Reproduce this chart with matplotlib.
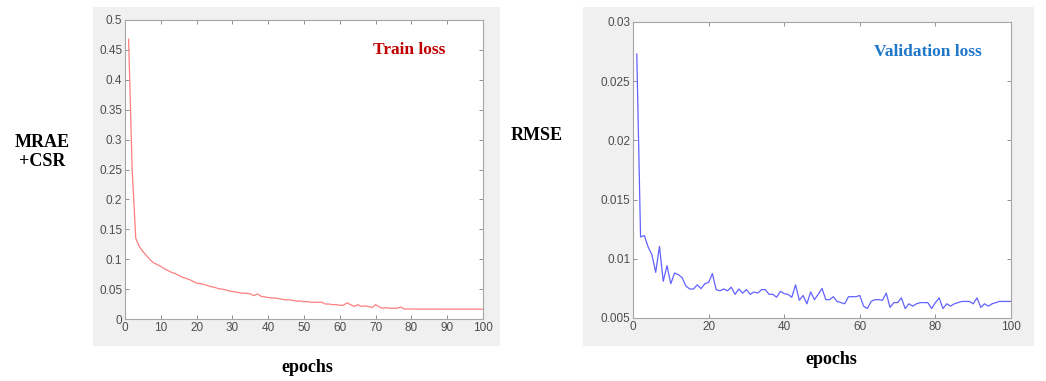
import matplotlib.pyplot as plt
import matplotlib.patches as mpatches
import numpy as np

epochs = np.arange(1, 101)

train_loss = [
    0.468, 0.25, 0.135, 0.121, 0.113, 0.106, 0.099, 0.094, 0.091, 0.088,
    0.084, 0.081, 0.078, 0.076, 0.073, 0.070, 0.068, 0.066, 0.063, 0.060,
    0.059, 0.058, 0.056, 0.054, 0.053, 0.051, 0.050, 0.049, 0.047, 0.046,
    0.045, 0.044, 0.043, 0.043, 0.042, 0.039, 0.042, 0.038, 0.037, 0.036,
    0.035, 0.035, 0.034, 0.033, 0.032, 0.032, 0.031, 0.030, 0.030, 0.029,
    0.029, 0.028, 0.028, 0.028, 0.028, 0.025, 0.025, 0.024, 0.024, 0.023,
    0.023, 0.027, 0.024, 0.021, 0.024, 0.021, 0.022, 0.021, 0.019, 0.024,
    0.020, 0.018, 0.019, 0.018, 0.018, 0.018, 0.020, 0.0167, 0.0167, 0.0167,
    0.0167, 0.0166, 0.0166, 0.0166, 0.0166, 0.0166, 0.0166, 0.0165, 0.0165, 0.0165,
    0.0165, 0.0165, 0.0165, 0.0165, 0.0165, 0.0165, 0.0165, 0.0165, 0.0165, 0.0165,
]

val_loss = [
    0.0273, 0.01185, 0.01196, 0.0110, 0.01035, 0.00886, 0.01105, 0.0081, 0.00942, 0.0079,
    0.0088, 0.00866, 0.0084, 0.0077, 0.00745, 0.00745, 0.0078, 0.00748, 0.0079, 0.0080,
    0.00875, 0.0074, 0.0073, 0.00745, 0.0073, 0.0076, 0.0070, 0.00745, 0.0071, 0.0074,
    0.0070, 0.0072, 0.0071, 0.0074, 0.0074, 0.0070, 0.0070, 0.00675, 0.00725, 0.00706,
    0.0070, 0.00675, 0.0078, 0.0065, 0.0069, 0.0062, 0.0072, 0.00655, 0.0070, 0.0075,
    0.00655, 0.00655, 0.0068, 0.0064, 0.0063, 0.0062, 0.0068, 0.0068, 0.0068, 0.0069,
    0.0060, 0.0058, 0.0064, 0.00655, 0.00655, 0.0065, 0.0071, 0.0059, 0.0063, 0.0063,
    0.0067, 0.0058, 0.0062, 0.0060, 0.0062, 0.0063, 0.0063, 0.0063, 0.0058, 0.0063,
    0.0067, 0.0058, 0.0062, 0.0060, 0.0062, 0.0063, 0.0064, 0.0064, 0.0064, 0.0062,
    0.0067, 0.0059, 0.0062, 0.0060, 0.0062, 0.0063, 0.0064, 0.0064, 0.0064, 0.0064,
]

W, H = 1046, 381
plt.rcParams['font.family'] = 'Liberation Sans'
fig = plt.figure(figsize=(W / 100, H / 100), dpi=100)


def px_rect(x0, y0, x1, y1):
    # pixel box (top-left origin) -> figure fraction [left, bottom, width, height]
    return [x0 / W, 1 - y1 / H, (x1 - x0) / W, (y1 - y0) / H]


# grey MATLAB-style figure panels, kept behind the axes
for box in [(93, 7, 500, 346), (583, 7, 1034, 346)]:
    l, b, w, h = px_rect(*box)
    fig.patches.append(mpatches.Rectangle((l, b), w, h, transform=fig.transFigure,
                                          facecolor='#f0f0f0', edgecolor='none', zorder=-5))

tick_color = '#4d4d4d'


def style(ax, xstep):
    ax.set_facecolor('white')
    for s in ax.spines.values():
        s.set_color('#a6a6a6')
        s.set_linewidth(0.8)
    ax.tick_params(direction='in', top=True, right=True, length=3, width=0.6,
                   color='#7f7f7f', labelcolor=tick_color, labelsize=8.5, pad=2)
    ax.set_xlim(0, 100)
    ax.set_xticks(range(0, 101, xstep))


ax1 = fig.add_axes(px_rect(125, 20, 483, 319), zorder=2)
ax1.plot(epochs, train_loss, color='#ff7f7f', lw=0.9)
ax1.set_ylim(0, 0.5)
ax1.set_yticks(np.arange(0, 0.501, 0.05))
ax1.set_yticklabels(['0', '0.05', '0.1', '0.15', '0.2', '0.25', '0.3', '0.35', '0.4', '0.45', '0.5'])
style(ax1, 10)
ax1.text(0.795, 0.9, 'Train loss', transform=ax1.transAxes, ha='center', va='center',
         color='#c00000', fontsize=12.5, fontweight='bold', family='Liberation Serif')

ax2 = fig.add_axes(px_rect(633, 22, 1011, 318), zorder=2)
ax2.plot(epochs, val_loss, color='#6262ff', lw=0.9)
ax2.set_ylim(0.005, 0.03)
ax2.set_yticks([0.005, 0.01, 0.015, 0.02, 0.025, 0.03])
ax2.set_yticklabels(['0.005', '0.01', '0.015', '0.02', '0.025', '0.03'])
style(ax2, 20)
ax2.text(0.78, 0.9, 'Validation loss', transform=ax2.transAxes, ha='center', va='center',
         color='#1f77c8', fontsize=12.5, fontweight='bold', family='Liberation Serif')

lab = dict(fontsize=13, fontweight='bold', family='Liberation Serif', color='black',
           ha='center', va='center')
fig.text(42 / W, 1 - 152 / H, 'MRAE\n+CSR', linespacing=1.2, **lab)
fig.text(537 / W, 1 - 135 / H, 'RMSE', **lab)
fig.text(307 / W, 1 - 367 / H, 'epochs', **lab)
fig.text(831 / W, 1 - 360 / H, 'epochs', **lab)

fig.savefig('out.png', dpi=100)
